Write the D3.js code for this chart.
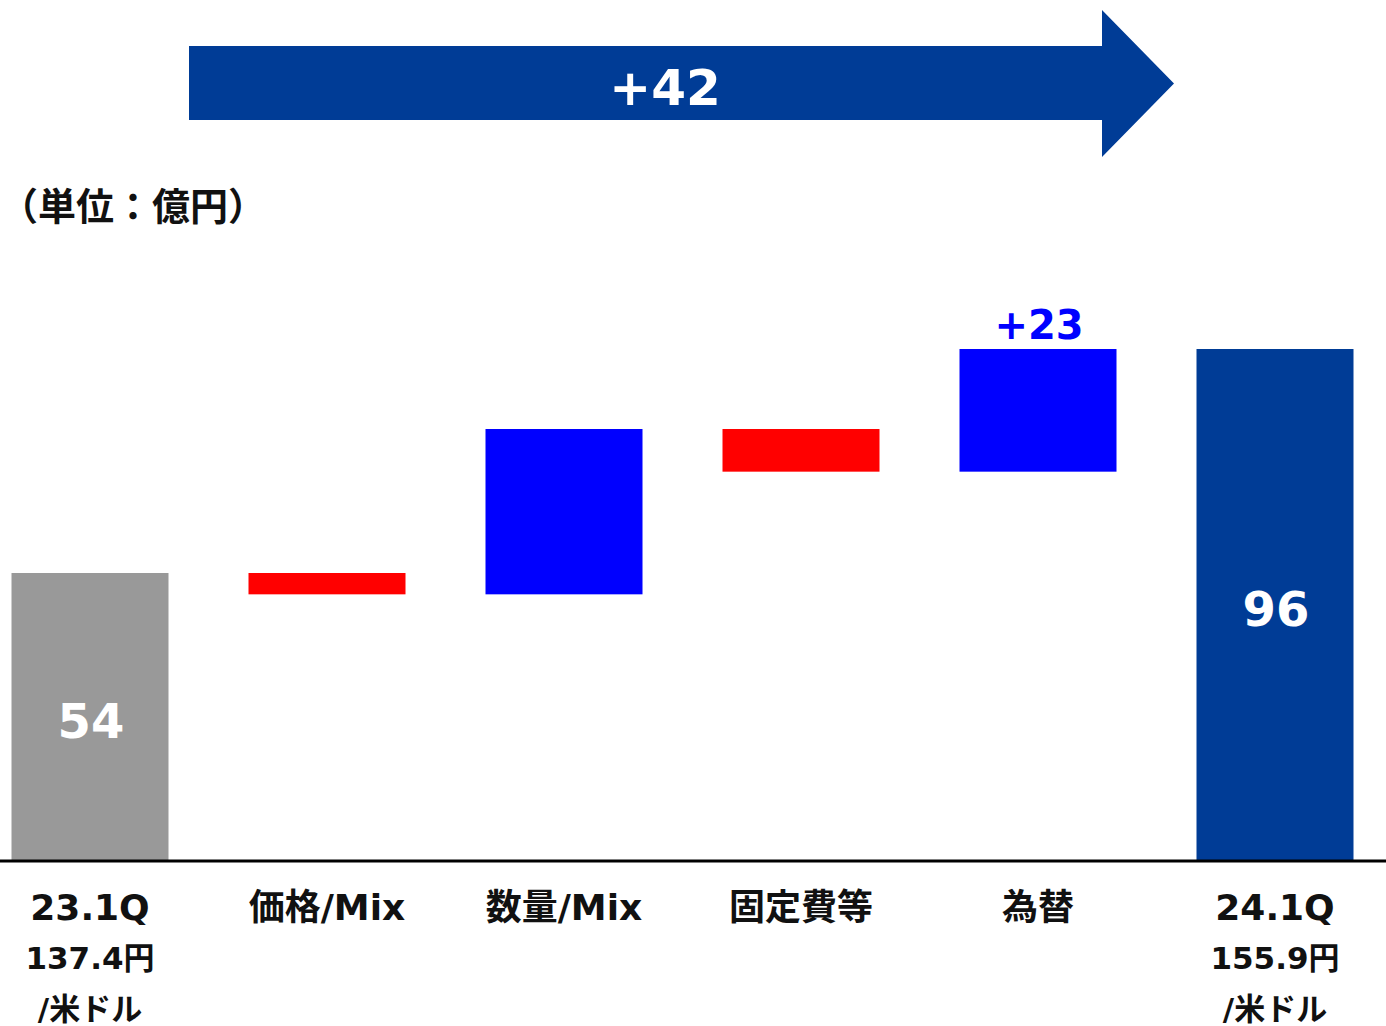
<!DOCTYPE html>
<html>
<head>
<meta charset="utf-8">
<script src="https://cdn.jsdelivr.net/npm/d3@7"></script>
<style>
  html, body { margin: 0; padding: 0; background: #fff; }
  svg text { font-family: "DejaVu Sans", "Noto Sans CJK JP", sans-serif; font-weight: bold; }
</style>
</head>
<body>
<svg id="chart" width="1386" height="1026"></svg>
<script>
// Operating profit bridge, 23.1Q -> 24.1Q (億円)
const categories = ["23.1Q", "価格/Mix", "数量/Mix", "固定費等", "為替", "24.1Q"];
const subLabels = [["137.4円", "/米ドル"], [], [], [], [], ["155.9円", "/米ドル"]];
const startValue = 54;
const changes = [-4, 31, -8, 23];
const endValue = 96;
const shownChangeLabels = [null, null, null, "+23"];
const unitLabel = "（単位：億円）";

const colors = { start: "#999999", up: "#0000FF", down: "#FF0000", end: "#003C96" };

// Build the floating bars from the running total
const bars = [];
bars.push({ cat: categories[0], y0: 0, y1: startValue, color: colors.start, label: String(startValue), kind: "total" });
let running = startValue;
changes.forEach((c, i) => {
  const next = running + c;
  bars.push({ cat: categories[i + 1], y0: Math.min(running, next), y1: Math.max(running, next),
              color: c >= 0 ? colors.up : colors.down, label: shownChangeLabels[i], kind: "delta" });
  running = next;
});
bars.push({ cat: categories[5], y0: 0, y1: endValue, color: colors.end, label: String(endValue), kind: "total" });

const svg = d3.select("#chart");

const x = d3.scalePoint().domain(categories).range([90, 1275]);
const barWidth = 157;
const y = d3.scaleLinear().domain([0, endValue]).range([861, 349]);

// Bars
svg.append("g").selectAll("rect").data(bars).join("rect")
  .attr("x", d => x(d.cat) - barWidth / 2)
  .attr("width", barWidth)
  .attr("y", d => y(d.y1))
  .attr("height", d => y(d.y0) - y(d.y1))
  .attr("fill", d => d.color);

// Totals written inside their bars
svg.append("g").selectAll("text").data(bars.filter(d => d.kind === "total")).join("text")
  .attr("x", d => x(d.cat) + 1)
  .attr("y", d => (y(d.y0) + y(d.y1)) / 2 + 21)
  .attr("text-anchor", "middle")
  .attr("fill", "#fff")
  .attr("font-size", 48)
  .text(d => d.label);

// Change label above the currency bar
svg.append("g").selectAll("text").data(bars.filter(d => d.kind === "delta" && d.label)).join("text")
  .attr("x", d => x(d.cat) + 1)
  .attr("y", d => y(d.y1) - 10)
  .attr("text-anchor", "middle")
  .attr("fill", colors.up)
  .attr("font-size", 40)
  .text(d => d.label);

// Baseline
const xAxis = d3.axisBottom(x).tickSize(0).tickFormat("");
const axisG = svg.append("g").attr("transform", `translate(0,${y(0)})`).call(xAxis);
axisG.select(".domain").attr("d", "M0,0H1386").attr("stroke", "#000").attr("stroke-width", 3);

// Category labels
const catG = svg.append("g");
categories.forEach((c, i) => {
  catG.append("text")
    .attr("x", x(c))
    .attr("y", 920)
    .attr("text-anchor", "middle")
    .attr("fill", "#111")
    .attr("font-size", 36)
    .text(c);
  subLabels[i].forEach((s, j) => {
    catG.append("text")
      .attr("x", x(c))
      .attr("y", 969 + j * 51)
      .attr("text-anchor", "middle")
      .attr("fill", "#111")
      .attr("font-size", 31)
      .text(s);
  });
});

// Unit note
svg.append("text")
  .attr("x", 0)
  .attr("y", 220)
  .attr("fill", "#111")
  .attr("font-size", 38)
  .text(unitLabel);

// Overall change arrow from the first total to the last
const arrow = { x0: 189, x1: 1102, tip: 1174, top: 46, bottom: 120, headTop: 10, headBottom: 157 };
const mid = (arrow.top + arrow.bottom) / 2;
svg.append("path")
  .attr("d", d3.line()([
    [arrow.x0, arrow.top], [arrow.x1, arrow.top], [arrow.x1, arrow.headTop],
    [arrow.tip, mid + 0.5], [arrow.x1, arrow.headBottom], [arrow.x1, arrow.bottom],
    [arrow.x0, arrow.bottom]
  ]) + "Z")
  .attr("fill", colors.end);

const totalChange = endValue - startValue;
svg.append("text")
  .attr("x", 665)
  .attr("y", 105)
  .attr("text-anchor", "middle")
  .attr("fill", "#fff")
  .attr("font-size", 50)
  .text((totalChange >= 0 ? "+" : "") + totalChange);
</script>
</body>
</html>
